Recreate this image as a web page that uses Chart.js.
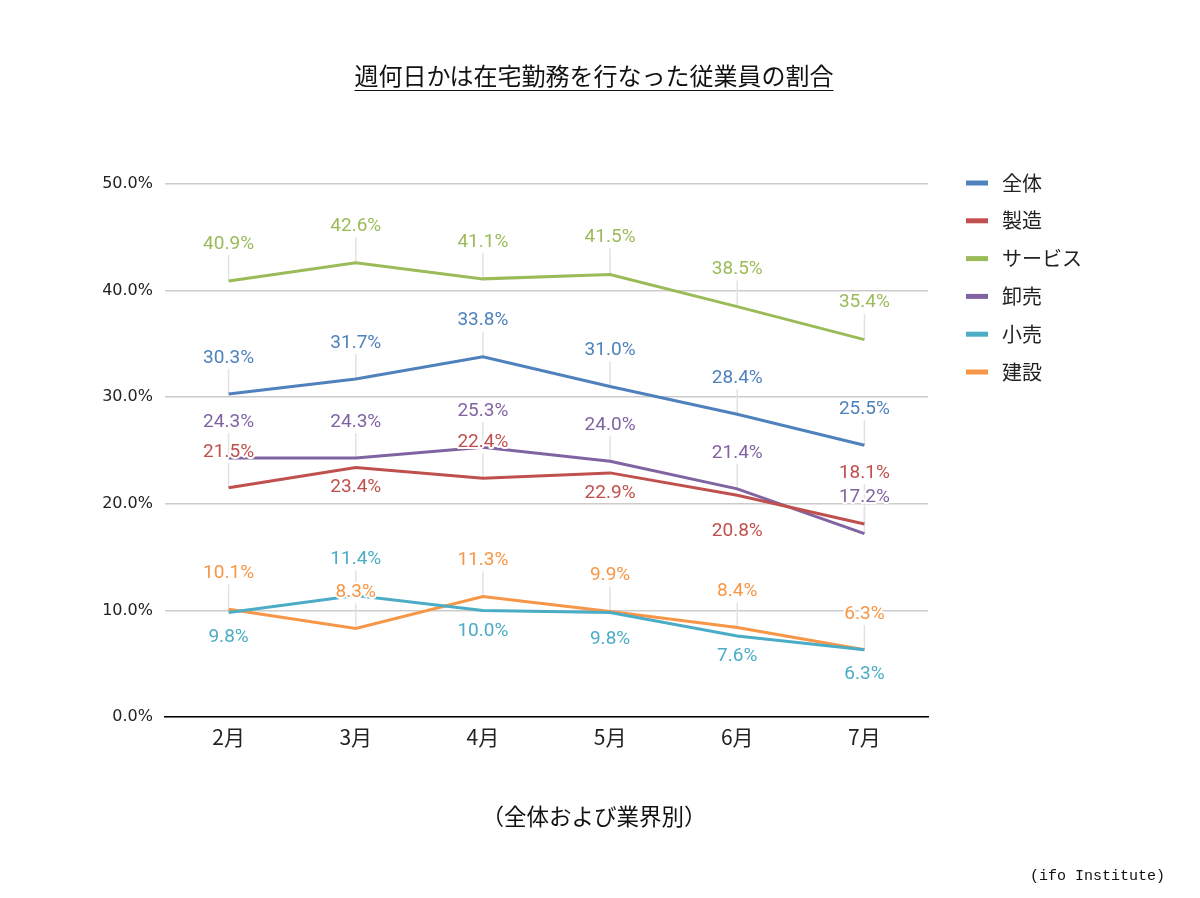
<!DOCTYPE html>
<html lang="ja">
<head>
<meta charset="utf-8">
<script src="https://cdn.jsdelivr.net/npm/chart.js@4.4.1/dist/chart.umd.min.js"></script>
<style>
  html, body { margin: 0; padding: 0; background: #fff; }
  #wrap { position: relative; width: 1200px; height: 898px; }
  #chart { position: absolute; left: 0; top: 0; }
  .txt { position: absolute; left: 0; width: 1188px; text-align: center; color: #111; font-family: "Noto Sans CJK JP", sans-serif; }
  #title { top: 60px; line-height: 30px; font-size: 24px; }
  #title span { text-decoration: underline; text-underline-offset: 5px; text-decoration-thickness: 1px; }
  #subtitle { top: 800px; line-height: 30px; font-size: 22.5px; }
  #source { position: absolute; left: 1030px; top: 868px; font: 15px "Liberation Mono", monospace; color: #111; }
</style>
</head>
<body>
<div id="wrap">
  <canvas id="chart" width="1200" height="898"></canvas>
  <div id="title" class="txt"><span>週何日かは在宅勤務を行なった従業員の割合</span></div>
  <div id="subtitle" class="txt">（全体および業界別）</div>
  <div id="source">(ifo Institute)</div>
</div>
<script>
const months = ['2月', '3月', '4月', '5月', '6月', '7月'];

const zentai = [30.3, 31.7, 33.8, 31.0, 28.4, 25.5];
const seizo = [21.5, 23.4, 22.4, 22.9, 20.8, 18.1];
const service = [40.9, 42.6, 41.1, 41.5, 38.5, 35.4];
const oroshi = [24.3, 24.3, 25.3, 24.0, 21.4, 17.2];
const kouri = [9.8, 11.4, 10.0, 9.8, 7.6, 6.3];
const kensetsu = [10.1, 8.3, 11.3, 9.9, 8.4, 6.3];

const yTicks = [0, 10, 20, 30, 40, 50];

// label placement (px from the point, negative = above)
const UP = -37;
const labelShift = {
  '全体': [UP, UP, UP, UP, UP, UP],
  '製造': [UP, 19, UP, 19, 35, -52],
  'サービス': [-38, -38, -38, -38, -38, -38],
  '卸売': [UP, UP, UP, UP, UP, UP],
  '小売': [24, UP, 20, 26, 19, 23],
  '建設': [UP, UP, UP, UP, UP, UP],
};

const series = [
  { label: '全体', data: zentai, color: '#4f81bd' },
  { label: '製造', data: seizo, color: '#c0504d' },
  { label: 'サービス', data: service, color: '#9bbb59' },
  { label: '卸売', data: oroshi, color: '#8064a2' },
  { label: '小売', data: kouri, color: '#4bacc6' },
  { label: '建設', data: kensetsu, color: '#f79646' },
];

const LABEL_FONT = '19px Roboto, sans-serif';

// thin grey leader lines under the series, from point up to its label
const leaders = {
  id: 'leaders',
  beforeDatasetsDraw(chart) {
    const ctx = chart.ctx;
    ctx.save();
    ctx.strokeStyle = '#e2e2e2';
    ctx.lineWidth = 1.5;
    chart.data.datasets.forEach((ds, i) => {
      const shifts = labelShift[ds.label];
      chart.getDatasetMeta(i).data.forEach((pt, j) => {
        if (shifts[j] >= 0) return;
        ctx.beginPath();
        ctx.moveTo(pt.x, pt.y);
        ctx.lineTo(pt.x, pt.y + shifts[j] + 12);
        ctx.stroke();
      });
    });
    ctx.restore();
  },
};

// value labels with a white halo
const valueLabels = {
  id: 'valueLabels',
  afterDatasetsDraw(chart) {
    const ctx = chart.ctx;
    ctx.save();
    ctx.font = LABEL_FONT;
    ctx.textAlign = 'center';
    ctx.textBaseline = 'middle';
    ctx.lineJoin = 'round';
    chart.data.datasets.forEach((ds, i) => {
      const shifts = labelShift[ds.label];
      chart.getDatasetMeta(i).data.forEach((pt, j) => {
        const txt = ds.data[j].toFixed(1) + '%';
        const y = pt.y + shifts[j] + 1;
        ctx.strokeStyle = '#fff';
        ctx.lineWidth = 4;
        ctx.strokeText(txt, pt.x, y);
        ctx.fillStyle = ds.borderColor;
        ctx.fillText(txt, pt.x, y);
      });
    });
    ctx.restore();
  },
};

// legend on the right, line swatches
const sideLegend = {
  id: 'sideLegend',
  afterDraw(chart) {
    const ctx = chart.ctx;
    ctx.save();
    ctx.font = '20px "Noto Sans CJK JP", sans-serif';
    ctx.textBaseline = 'middle';
    chart.data.datasets.forEach((ds, i) => {
      const y = 183 + i * 37.8;
      ctx.fillStyle = ds.borderColor;
      ctx.fillRect(966, y - 2.5, 22, 5);
      ctx.fillStyle = '#222';
      ctx.fillText(ds.label, 1002, y);
    });
    ctx.restore();
  },
};

new Chart(document.getElementById('chart'), {
  type: 'line',
  data: {
    labels: months,
    datasets: series.map((s) => ({
      label: s.label,
      data: s.data,
      borderColor: s.color,
      backgroundColor: s.color,
      borderWidth: 3,
      pointRadius: 0,
      tension: 0,
    })),
  },
  options: {
    responsive: false,
    animation: false,
    events: [],
    layout: { padding: { left: 0, top: 184, right: 272, bottom: 131 } },
    scales: {
      x: {
        offset: true,
        grid: { display: false, drawTicks: false },
        border: { color: '#000', width: 1.5 },
        ticks: { color: '#222', padding: 7, font: { family: '"Noto Sans CJK JP"', size: 21 } },
        afterFit: (s) => { s.height = 50; },
      },
      y: {
        min: 0,
        max: 50,
        afterBuildTicks: (s) => { s.ticks = yTicks.map((v) => ({ value: v })); },
        grid: { color: '#cccccc', lineWidth: 1.5, drawTicks: false },
        border: { display: false },
        ticks: {
          color: '#222',
          padding: 12,
          font: { family: '"DejaVu Sans"', size: 16 },
          callback: (v) => v.toFixed(1) + '%',
        },
        afterFit: (s) => { s.width = 165; },
      },
    },
    plugins: {
      legend: { display: false },
      tooltip: { enabled: false },
    },
  },
  plugins: [leaders, valueLabels, sideLegend],
});
</script>
</body>
</html>
